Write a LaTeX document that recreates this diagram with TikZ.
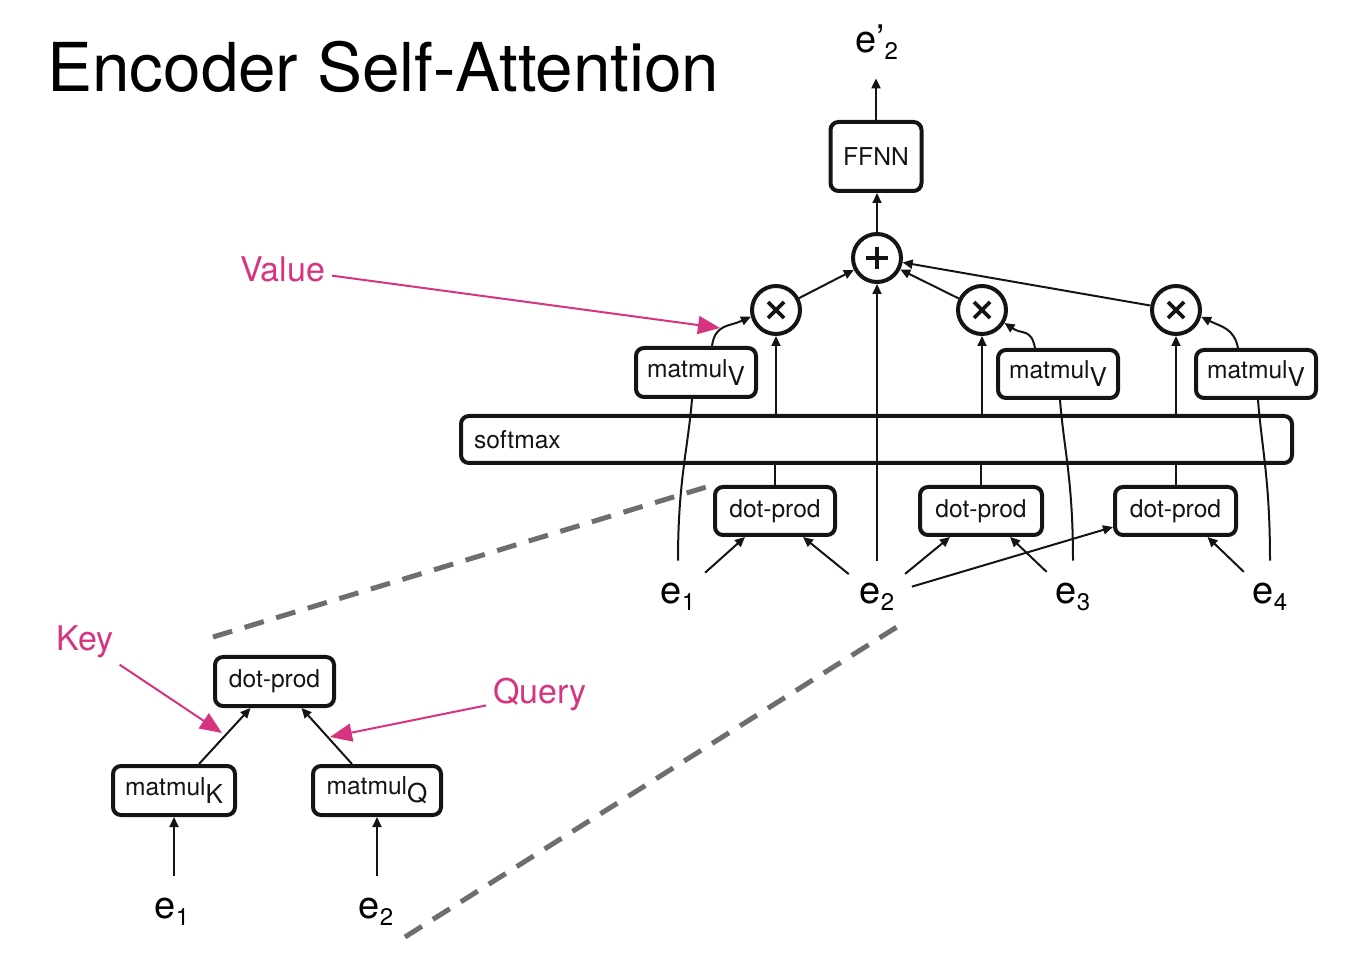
\documentclass[tikz,border=0pt]{standalone}
\usepackage{fontspec}
\setmainfont{TeX Gyre Heros}
\usetikzlibrary{arrows.meta,calc}
\definecolor{pinkc}{RGB}{214,52,128}
\definecolor{dashc}{RGB}{110,110,110}
\definecolor{inkc}{RGB}{20,20,20}
\newcommand{\sbx}[1]{\raisebox{-4pt}{\fontsize{13}{13}\selectfont #1}}
\newcommand{\esub}[1]{\raisebox{-3.5pt}{\fontsize{12}{12}\selectfont #1}}
\begin{document}
\begin{tikzpicture}[x=0.5pt,y=-0.5pt,
 box/.style={draw=inkc, line width=2pt, rounded corners=4pt, inner sep=0pt, text=inkc, font=\fontsize{12.3}{14}\selectfont},
 opnode/.style={draw=inkc, circle, line width=2pt, minimum size=24pt, inner sep=0pt},
 plussign/.style={path picture={
   \draw[line width=1.8pt] ([xshift=-5.5pt]path picture bounding box.center) -- ([xshift=5.5pt]path picture bounding box.center);
   \draw[line width=1.8pt] ([yshift=-5.5pt]path picture bounding box.center) -- ([yshift=5.5pt]path picture bounding box.center);}},
 timessign/.style={path picture={
   \draw[line width=1.8pt] ([shift={(-4pt,-4pt)}]path picture bounding box.center) -- ([shift={(4pt,4pt)}]path picture bounding box.center);
   \draw[line width=1.8pt] ([shift={(-4pt,4pt)}]path picture bounding box.center) -- ([shift={(4pt,-4pt)}]path picture bounding box.center);}},
 enode/.style={circle, minimum size=36pt, inner sep=0pt, font=\fontsize{19}{20}\selectfont},
 conn/.style={draw=inkc, line width=1pt, -{Triangle[length=5pt,width=4.5pt]}},
 plain/.style={draw=inkc, line width=1pt},
 pinkarr/.style={draw=pinkc, line width=1pt, -{Triangle[length=11pt,width=9pt]}},
 pinklabel/.style={text=pinkc, font=\fontsize{17}{18}\selectfont},
 zoomline/.style={draw=dashc, line width=2.5pt, dash pattern=on 10pt off 6.5pt},
]
\useasboundingbox (0,0) rectangle (1372,978);

% title
\node[anchor=base west, inner sep=0pt, font=\fontsize{33.7}{36}\selectfont] (title) at (47,92) {Encoder Self-Attention};

% top structure
\node[enode] (ep) at (877,42) {e’\esub{2}};
\node[box, minimum width=45.5pt, minimum height=34.5pt] (ffnn) at (876,156.5) {FFNN};
\node[opnode, plussign] (plus) at (877,258) {};
\node[opnode, timessign] (m1) at (776,310) {};
\node[opnode, timessign] (m3) at (982,310) {};
\node[opnode, timessign] (m4) at (1176,310) {};
\node[box, minimum width=60pt, minimum height=24.5pt] (mv1) at (696,372.5) {matmul\sbx{V}};
\node[box, minimum width=60pt, minimum height=24pt] (mv3) at (1058,374) {matmul\sbx{V}};
\node[box, minimum width=60pt, minimum height=24pt] (mv4) at (1256,374) {matmul\sbx{V}};
\node[box, minimum width=415.5pt, minimum height=23.5pt, text width=402.5pt, inner xsep=6.5pt, align=left] (sm) at (876.5,439.5) {softmax};
\node[box, minimum width=60pt, minimum height=24pt] (dp1) at (775,511) {dot-prod};
\node[box, minimum width=61pt, minimum height=24pt] (dp2) at (981,511) {dot-prod};
\node[box, minimum width=60.5pt, minimum height=24pt] (dp3) at (1175.5,511) {dot-prod};
\node[enode] (e1) at (678,597) {e\esub{1}};
\node[enode] (e2) at (877,597) {e\esub{2}};
\node[enode] (e3) at (1073,597) {e\esub{3}};
\node[enode] (e4) at (1270,597) {e\esub{4}};

% bottom-left detail
\node[box, minimum width=59.5pt, minimum height=24.5pt] (bdp) at (274.5,681.5) {dot-prod};
\node[box, minimum width=61pt, minimum height=24.5pt] (mk) at (174,790.5) {matmul\sbx{K}};
\node[box, minimum width=64pt, minimum height=24.5pt] (mq) at (377,790.5) {matmul\sbx{Q}};
\node[enode] (e1b) at (172,912) {e\esub{1}};
\node[enode] (e2b) at (376,912) {e\esub{2}};

% pink labels
\node[pinklabel] (value) at (282.5,269) {Value};
\node[pinklabel] (key) at (85,641.5) {Key};
\node[pinklabel] (query) at (540,694.5) {Query};
\coordinate (vtip) at (720,328);
\coordinate (ktip) at (222,733);
\coordinate (qtip) at (330,737);

% zoom lines
\coordinate (zs1) at (213,637);
\coordinate (zs2) at (405,937);
\coordinate (ze2) at (900,625);
\draw[zoomline] (zs1) -- (dp1.north west);
\draw[zoomline] (zs2) -- (ze2);

% connectors: top
\draw[conn] (ffnn.north) -- (ffnn.north |- ep.south);
\draw[conn] (plus.north) -- (plus.north |- ffnn.south);
\draw[conn] (m1) -- (plus);
\draw[conn] (m3) -- (plus);
\draw[conn] (m4) -- (plus);
\draw[conn] (m1 |- sm.north) -- (m1);
\draw[conn] (m3 |- sm.north) -- (m3);
\draw[conn] (m4 |- sm.north) -- (m4);
\draw[plain] (dp1.north) -- (dp1.north |- sm.south);
\draw[plain] (dp2.north) -- (dp2.north |- sm.south);
\draw[plain] (dp3.north) -- (dp3.north |- sm.south);
\draw[conn] (e2.north) -- (plus.south);

% values path
\draw[plain] (e1.north) .. controls +(0,-80) and +(-4,50) .. ([xshift=-2pt]mv1.south);
\draw[conn] ([xshift=8pt]mv1.north) .. controls +(3,-22) and +(-22,10) .. (m1.195);
\draw[plain] (e3.north) .. controls +(0,-80) and +(4,50) .. ([xshift=1pt]mv3.south);
\draw[conn] ([xshift=-11.5pt]mv3.north) .. controls +(-4,-20) and +(18,12) .. (m3.-30);
\draw[plain] (e4.north) .. controls +(0,-80) and +(4,50) .. ([xshift=1pt]mv4.south);
\draw[conn] ([xshift=-9pt]mv4.north) .. controls +(-4,-20) and +(20,10) .. (m4.-15);

% dot-product inputs
\draw[conn] (e1) -- ([xshift=-15pt]dp1.south);
\draw[conn] (e2) -- ([xshift=14pt]dp1.south);
\draw[conn] (e2) -- ([xshift=-15.5pt]dp2.south);
\draw[conn] (e3) -- ([xshift=14.5pt]dp2.south);
\draw[conn] (e2) -- ([yshift=-8pt]dp3.west);
\draw[conn] (e4) -- ([xshift=16pt]dp3.south);

% bottom-left connectors
\draw[conn] (mk.south |- e1b.north) -- (mk.south);
\draw[conn] (mq.south |- e2b.north) -- (mq.south);
\draw[conn] ([xshift=12.5pt]mk.north) -- ([xshift=-12pt]bdp.south);
\draw[conn] ([xshift=-12.5pt]mq.north) -- ([xshift=13.5pt]bdp.south);

% pink arrows
\draw[pinkarr] (value) -- (vtip);
\draw[pinkarr] (key) -- (ktip);
\draw[pinkarr] (query) -- (qtip);
\end{tikzpicture}
\end{document}
